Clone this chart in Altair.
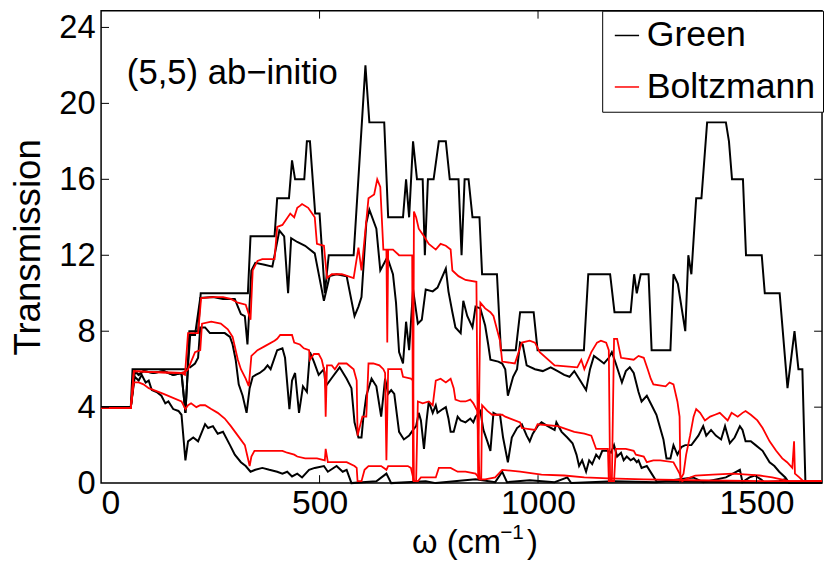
import altair as alt
import pandas as pd

# ---------------- data (omega in cm^-1, transmission) ----------------
# Green (black curves)
B0_w = [0, 68, 72, 198, 202, 222, 228, 336, 342, 397, 403, 430, 437, 444, 465, 471, 478, 490, 500, 512,
        521, 578, 605, 614, 648, 657, 691, 698, 705, 714, 723, 736, 741, 748, 761, 773, 789, 798, 818, 825,
        832, 841, 850, 866, 872, 906, 915, 949, 959, 990, 999, 1105, 1115, 1165, 1175, 1212, 1220, 1226, 1235, 1253,
        1260, 1303, 1310, 1320, 1337, 1344, 1351, 1362, 1374, 1387, 1430, 1437, 1444, 1469, 1476, 1512, 1519, 1553, 1571, 1587,
        1596, 1605, 1612, 1650]
B0_t = [4, 4, 6, 6, 8, 8, 10, 10, 13, 13, 15, 15, 17, 16, 16, 18, 18, 14.2, 14.2, 10,
        12, 12, 22, 19, 19, 14, 14, 16, 14, 18, 16, 16, 12, 16, 16, 18, 18, 16, 16, 12,
        16, 16, 14, 14, 11, 11, 7, 7, 9, 9, 7, 7, 11, 11, 9, 9, 11, 10, 11, 11,
        7, 7, 11, 10.5, 8, 12, 11, 15, 15, 19, 19, 18, 16, 16, 12, 12, 10, 10, 5, 8,
        6, 6, 0, 0]

B1_w = [0, 68, 77, 86, 97, 120, 143, 165, 184, 193, 199, 204, 215, 227, 256, 279, 306, 313, 320, 329,
        335, 344, 353, 374, 392, 408, 419, 428, 435, 449, 467, 489, 510, 523, 539, 562, 580, 589, 596, 607,
        614, 630, 639, 655, 668, 675, 682, 691, 698, 705, 714, 725, 734, 743, 759, 770, 789, 795, 804, 811,
        823, 829, 838, 850, 857, 868, 879, 886, 891, 909, 918, 925, 931, 943, 952, 959, 965, 974, 993, 1011,
        1029, 1045, 1060, 1072, 1083, 1094, 1110, 1119, 1128, 1140, 1151, 1162, 1169, 1178, 1192, 1201, 1210, 1219, 1230, 1237,
        1249, 1260, 1271, 1287, 1294, 1303, 1310, 1319, 1328, 1337, 1351, 1367, 1378, 1385, 1396, 1407, 1419, 1428, 1439, 1450,
        1462, 1468, 1475, 1487, 1498, 1514, 1530, 1541, 1552, 1566, 1575, 1650]
B1_t = [4, 4, 5.9, 5.7, 5.9, 5.8, 5.9, 5.7, 5.8, 3.7, 6.2, 7.8, 7.8, 9.75, 9.8, 9.7, 9.7, 9.3, 8.9, 8.8,
        7.3, 11.2, 11.6, 11.5, 11.4, 13.3, 13.0, 10.0, 12.9, 12.7, 12.5, 12.1, 9.6, 10.9, 11.0, 10.9, 8.8, 9.3, 9.8, 13.7,
        14.4, 13.4, 11.2, 11.9, 11.0, 9.5, 6.9, 6.3, 8.5, 7.0, 10.2, 8.4, 8.6, 10.2, 10.1, 10.3, 11.3, 10.1, 9.0, 8.2,
        7.9, 9.6, 8.8, 8.2, 9.3, 9.2, 8.3, 7.3, 6.5, 6.4, 6.3, 6.0, 4.6, 5.6, 6.0, 7.4, 7.3, 6.2, 6.0, 5.9,
        6.1, 5.9, 5.7, 5.6, 5.9, 5.5, 4.9, 6.0, 6.7, 6.5, 6.3, 6.6, 6.9, 6.3, 5.3, 5.9, 6.1, 5.8, 4.8, 4.3,
        4.6, 4.1, 3.6, 2.3, 1.3, 1.3, 2.0, 1.5, 1.9, 2.0, 2.0, 2.5, 3.0, 2.5, 2.8, 2.5, 2.3, 3.0, 2.1, 2.4,
        3.0, 2.8, 2.2, 2.2, 2.0, 1.7, 1.1, 0.9, 0.6, 0.3, 0.0, 0.0]

B2_w = [0, 68, 77, 86, 97, 120, 143, 165, 184, 193, 199, 204, 215, 222, 227, 238, 249, 267, 283, 295,
        301, 308, 315, 324, 333, 340, 347, 354, 363, 374, 381, 388, 403, 415, 421, 431, 437, 444, 453, 462,
        471, 478, 487, 498, 510, 514, 530, 546, 562, 573, 580, 589, 596, 600, 607, 619, 630, 641, 646, 650,
        657, 664, 671, 682, 693, 705, 714, 721, 727, 732, 739, 745, 750, 759, 766, 770, 782, 789, 795, 800,
        807, 816, 823, 834, 845, 852, 857, 868, 875, 884, 891, 898, 906, 913, 920, 931, 940, 952, 963, 974,
        981, 988, 999, 1008, 1022, 1038, 1042, 1054, 1067, 1079, 1088, 1094, 1101, 1110, 1117, 1124, 1133, 1140, 1147, 1158,
        1167, 1174, 1181, 1190, 1196, 1203, 1212, 1219, 1226, 1230, 1237, 1249, 1260, 1271, 1650]
B2_t = [4, 4, 5.9, 5.7, 5.9, 5.8, 5.9, 5.7, 5.8, 3.7, 6.2, 6.1, 6.3, 6.6, 8.2, 8.2, 7.9, 7.9, 7.9, 7.7,
        7.3, 6.5, 5.2, 4.6, 3.7, 5.0, 5.6, 5.7, 5.8, 6.0, 6.2, 6.0, 7.0, 7.1, 6.6, 3.9, 5.4, 5.8, 3.7, 5.1,
        4.8, 6.9, 6.4, 5.7, 6.0, 5.1, 5.6, 6.1, 5.5, 5.0, 3.2, 2.4, 2.4, 3.4, 4.6, 5.5, 5.1, 3.5, 4.6, 5.5,
        4.7, 4.9, 4.7, 2.7, 2.3, 2.5, 2.8, 3.0, 3.7, 3.3, 1.8, 3.3, 4.3, 3.7, 4.1, 3.7, 3.9, 4.0, 3.4, 2.7,
        2.7, 3.5, 3.3, 3.2, 3.4, 3.2, 3.5, 3.8, 2.8, 2.2, 1.7, 3.7, 3.6, 3.6, 2.4, 1.1, 2.4, 2.9, 3.1, 2.5,
        2.2, 2.6, 3.0, 3.2, 3.0, 2.8, 3.2, 2.7, 2.4, 2.1, 1.5, 0.9, 1.2, 0.6, 1.2, 1.0, 1.5, 1.3, 1.7, 1.7,
        1.6, 2.0, 1.4, 1.6, 1.2, 1.4, 1.2, 1.3, 1.1, 1.2, 0.8, 0.9, 0.5, 0.1, 0.0]

B3_w = [0, 68, 77, 86, 93, 102, 109, 116, 127, 138, 147, 154, 165, 177, 184, 193, 199, 211, 222, 238,
        245, 256, 267, 279, 295, 306, 320, 331, 342, 353, 369, 385, 403, 415, 426, 437, 449, 460, 476, 489,
        510, 519, 539, 553, 562, 573, 630, 653, 664, 743, 766, 857, 902, 918, 929, 981, 1038, 1067, 1076, 1174,
        1271, 1355, 1378, 1430, 1446, 1462, 1468, 1484, 1496, 1510, 1518, 1552, 1564, 1577, 1650]
B3_t = [4, 4, 5.6, 5.4, 5.7, 5.3, 5.4, 4.9, 4.8, 4.6, 4.2, 4.3, 3.9, 3.8, 3.6, 1.2, 2.2, 2.4, 2.2, 3.1,
        2.9, 3.0, 2.6, 2.7, 2.0, 1.5, 1.1, 0.9, 0.6, 0.7, 0.8, 0.7, 0.6, 0.5, 0.6, 0.35, 0.5, 0.3, 0.7, 0.8,
        0.9, 0.6, 0.9, 0.6, 0.7, 0.0, 0.1, 0.5, 0.0, 0.1, 0.0, 0.2, 0.05, 0.6, 0.05, 0.15, 0.05, 0.3, 0.0, 0.1,
        0.05, 0.3, 0.05, 0.3, 0.5, 0.7, 0.05, 0.3, 0.4, 0.2, 0.05, 0.1, 0.2, 0.0, 0.0]

# Boltzmann (red curves)
R1_w = [0, 68, 75, 120, 184, 192, 199, 222, 229, 256, 279, 297, 313, 331, 342, 347, 358, 369, 397, 403,
        415, 433, 442, 449, 455, 460, 474, 483, 489, 494, 510, 517, 528, 551, 578, 589, 596, 612, 625, 632,
        639, 646, 653, 655, 657, 668, 682, 709, 712, 714, 716, 721, 727, 739, 750, 766, 777, 789, 800, 804,
        818, 834, 859, 863, 868, 879, 891, 898, 906, 913, 918, 947, 963, 981, 993, 1004, 1038, 1090, 1099, 1106,
        1122, 1135, 1144, 1156, 1162, 1165, 1169, 1174, 1181, 1190, 1219, 1230, 1242, 1251, 1258, 1264, 1292, 1301, 1310, 1319,
        1324, 1326, 1333, 1339, 1348, 1356, 1362, 1371, 1382, 1394, 1405, 1416, 1425, 1434, 1443, 1457, 1468, 1475, 1487, 1502,
        1514, 1530, 1545, 1559, 1570, 1582, 1586, 1588, 1598, 1607, 1650]
R1_t = [3.95, 3.95, 5.9, 5.85, 5.8, 5.7, 7.9, 7.9, 9.75, 9.8, 9.8, 9.7, 9.5, 9.4, 8.6, 11.2, 11.7, 11.8, 11.8, 13.5,
        13.6, 14.2, 14.0, 14.5, 14.6, 14.7, 14.5, 14.2, 14.0, 12.6, 12.5, 10.8, 11.0, 11.0, 10.8, 12.4, 11.2, 15.0, 15.2, 16.0,
        15.6, 12.3, 12.3, 7.4, 12.3, 12.3, 12.0, 12.0, 12.0, 0.1, 14.3, 14.0, 13.4, 13.0, 12.6, 12.3, 12.6, 12.5, 12.3, 11.2,
        10.9, 10.7, 10.6, 0.2, 9.5, 9.2, 9.0, 8.8, 8.1, 7.5, 6.4, 6.3, 7.4, 7.5, 7.4, 6.9, 6.2, 6.1, 6.5, 6.0,
        6.9, 7.4, 7.5, 7.4, 7.0, 0.1, 0.1, 7.6, 7.6, 6.6, 6.5, 6.7, 6.6, 6.0, 5.5, 5.2, 5.1, 5.3, 5.2, 4.3,
        3.5, 0.2, 0.5, 1.5, 2.5, 3.5, 3.9, 3.7, 3.3, 3.5, 3.6, 3.7, 3.5, 3.3, 3.7, 3.5, 3.7, 3.8, 3.6, 3.3,
        2.9, 2.2, 1.7, 1.3, 1.1, 0.8, 2.2, 0.5, 0.3, 0.1, 0.1]

R2_w = [0, 68, 75, 120, 184, 195, 199, 215, 227, 231, 252, 274, 290, 301, 313, 320, 331, 338, 344, 358,
        374, 397, 403, 410, 437, 442, 455, 464, 476, 478, 487, 498, 505, 512, 514, 517, 528, 535, 544, 562,
        578, 585, 587, 598, 607, 612, 623, 637, 646, 650, 653, 657, 675, 687, 691, 709, 714, 716, 721, 725,
        736, 750, 759, 766, 777, 789, 800, 807, 811, 823, 834, 845, 852, 861, 866, 870, 872, 884, 895, 918,
        925, 959, 963, 993, 999, 1045, 1083, 1106, 1122, 1133, 1160, 1162, 1174, 1178, 1201, 1219, 1224, 1242, 1249, 1264,
        1280, 1310, 1317, 1324, 1330, 1337, 1360, 1400, 1446, 1480, 1507, 1536, 1575, 1650]
R2_t = [3.95, 3.95, 5.9, 5.85, 5.8, 5.9, 6.0, 6.9, 7.0, 8.4, 8.5, 8.4, 8.1, 7.7, 6.5, 6.0, 5.5, 5.1, 6.7, 7.0,
        7.2, 7.5, 7.6, 7.8, 7.8, 7.4, 7.3, 7.1, 7.0, 6.5, 6.8, 6.8, 6.5, 5.8, 3.5, 6.2, 6.2, 6.0, 6.3, 6.3,
        6.0, 5.4, 2.5, 3.5, 3.5, 6.3, 6.3, 6.2, 6.0, 5.8, 1.2, 6.0, 6.0, 6.0, 5.6, 5.5, 5.4, 0.1, 0.1, 4.3,
        4.2, 4.3, 4.1, 5.4, 5.5, 5.3, 5.5, 5.0, 4.4, 4.3, 4.3, 4.4, 4.2, 3.8, 0.2, 0.2, 4.1, 3.8, 3.6, 3.6,
        3.5, 3.2, 2.9, 2.8, 3.1, 3.0, 2.7, 2.6, 2.5, 1.8, 1.8, 0.1, 0.1, 1.8, 1.8, 1.7, 1.5, 1.4, 1.1, 1.2,
        1.2, 1.1, 0.8, 0.5, 0.1, 0.2, 0.4, 0.45, 0.5, 0.45, 0.4, 0.3, 0.1, 0.1]

R3_w = [0, 68, 75, 86, 97, 109, 143, 184, 193, 199, 206, 218, 227, 238, 252, 267, 283, 297, 313, 329,
        335, 340, 344, 351, 381, 415, 426, 442, 449, 467, 494, 512, 514, 519, 539, 562, 580, 585, 587, 596,
        603, 612, 641, 653, 657, 702, 709, 716, 725, 732, 766, 773, 800, 816, 834, 857, 868, 879, 902, 918,
        959, 1008, 1060, 1106, 1162, 1242, 1355, 1536, 1650]
R3_t = [3.95, 3.95, 5.3, 5.3, 5.2, 5.0, 4.7, 4.3, 3.9, 4.1, 4.2, 4.0, 4.1, 4.1, 3.9, 3.7, 3.4, 3.0, 2.5, 2.0,
        1.4, 0.9, 1.4, 1.7, 1.7, 1.7, 1.6, 1.5, 1.4, 1.3, 1.3, 1.2, 1.8, 1.1, 1.1, 1.1, 0.9, 0.8, 0.1, 0.1,
        0.7, 0.9, 0.9, 0.7, 0.9, 0.9, 0.8, 0.1, 0.1, 0.3, 0.3, 0.8, 0.8, 0.6, 0.6, 0.5, 0.2, 0.2, 0.3, 0.7,
        0.6, 0.45, 0.4, 0.3, 0.25, 0.2, 0.15, 0.1, 0.1]

methods = ["Green", "Boltzmann"]
colors = ["#000000", "#ff0000"]
x_ticks = [500, 1000, 1500]
y_ticks = [4, 8, 12, 16, 20, 24]
x_labels = [0, 500, 1000, 1500]
y_labels = [0, 4, 8, 12, 16, 20, 24]
annotation = "(5,5) ab\u2212initio"
x_title_main, x_title_sup, x_title_end = "\u03c9 (cm", "\u22121", ")"

curves = [
    ("Green", "g0", B0_w, B0_t), ("Green", "g1", B1_w, B1_t),
    ("Green", "g2", B2_w, B2_t), ("Green", "g3", B3_w, B3_t),
    ("Boltzmann", "r1", R1_w, R1_t), ("Boltzmann", "r2", R2_w, R2_t),
    ("Boltzmann", "r3", R3_w, R3_t),
]
rows = []
for method, cid, ws, ts in curves:
    assert len(ws) == len(ts), cid
    for i, (w, t) in enumerate(zip(ws, ts)):
        rows.append({"method": method, "curve": cid, "w": w, "t": t, "i": i})
df = pd.DataFrame(rows)

FONT = "Liberation Sans"
W, H = 728, 477
xsc = alt.Scale(domain=[0, 1650], nice=False, zero=False)
ysc = alt.Scale(domain=[0, 24.88], nice=False)

X = alt.X("w:Q", scale=xsc, axis=alt.Axis(values=x_labels, title=None, ticks=False,
                                          domain=False, grid=False, labelFontSize=34, labelPadding=4,
                                          format="d"))
Y = alt.Y("t:Q", scale=ysc, axis=alt.Axis(values=y_labels, title="Transmission", ticks=False,
                                          domain=False, grid=False, labelFontSize=33, labelPadding=6,
                                          titleFontSize=37, titlePadding=11, format="d"))
color = alt.Color("method:N", scale=alt.Scale(domain=methods, range=colors),
                  legend=alt.Legend(title=None, orient="none", legendX=506, legendY=0,
                                    symbolType="stroke", symbolSize=600, symbolStrokeWidth=1.5,
                                    labelFontSize=36, labelFont=FONT, labelOffset=2,
                                    strokeColor="black", fillColor="white", padding=7,
                                    rowPadding=16, labelLimit=400))

black = alt.Chart(df[df.method == "Green"]).mark_line(strokeWidth=2).encode(
    x=X, y=Y, color=color, detail="curve:N", order="i:Q")
red = alt.Chart(df[df.method == "Boltzmann"]).mark_line(strokeWidth=1.8).encode(
    x=X, y=Y, color=color, detail="curve:N", order="i:Q")

xt = pd.DataFrame({"w": x_ticks})
yt = pd.DataFrame({"t": y_ticks})
tick_b = alt.Chart(xt).mark_rule(color="black", strokeWidth=1).encode(x=X, y=alt.value(H), y2=alt.value(H - 8))
tick_t = alt.Chart(xt).mark_rule(color="black", strokeWidth=1).encode(x=X, y=alt.value(0), y2=alt.value(8))
tick_l = alt.Chart(yt).mark_rule(color="black", strokeWidth=1).encode(y=Y, x=alt.value(0), x2=alt.value(8))
tick_r = alt.Chart(yt).mark_rule(color="black", strokeWidth=1).encode(y=Y, x=alt.value(W - 8), x2=alt.value(W))

ann = alt.Chart(pd.DataFrame({"w": [59], "t": [21.6], "label": [annotation]})).mark_text(
    align="left", baseline="middle", fontSize=35, font=FONT, color="black").encode(x=X, y=Y, text="label:N")

# x-axis title with a real superscript, built from three text pieces
one = pd.DataFrame({"k": [0]})
xt1 = alt.Chart(one).mark_text(align="left", baseline="alphabetic", fontSize=33, font=FONT, color="black").encode(
    x=alt.value(314), y=alt.value(548), text=alt.value(x_title_main))
xt2 = alt.Chart(one).mark_text(align="left", baseline="alphabetic", fontSize=21, font=FONT, color="black").encode(
    x=alt.value(403), y=alt.value(533), text=alt.value(x_title_sup))
xt3 = alt.Chart(one).mark_text(align="left", baseline="alphabetic", fontSize=33, font=FONT, color="black").encode(
    x=alt.value(430), y=alt.value(548), text=alt.value(x_title_end))

chart = alt.layer(black, red, tick_b, tick_t, tick_l, tick_r, ann, xt1, xt2, xt3).properties(
    width=W, height=H,
    autosize=alt.AutoSizeParams(type="none"),
    padding={"left": 94, "top": 0, "right": 3, "bottom": 86},
).configure(font=FONT).configure_view(stroke="black", strokeWidth=1.5).configure_axis(
    labelColor="black", titleColor="black", titleFontWeight="normal", labelFont=FONT, titleFont=FONT)

chart.save("out.html", embed_options={"renderer": "svg", "actions": False})
